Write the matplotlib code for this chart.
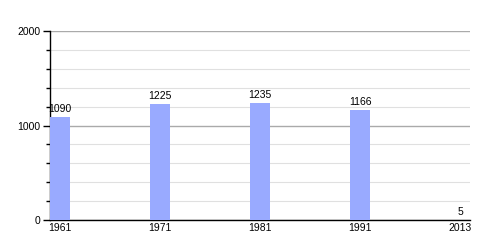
import matplotlib
matplotlib.use("Agg")
import matplotlib.pyplot as plt
from matplotlib.ticker import MultipleLocator

years = ["1961", "1971", "1981", "1991", "2013"]
population = [1090, 1225, 1235, 1166, 5]

plt.rcParams['font.family'] = ['Liberation Sans', 'DejaVu Sans']
fig = plt.figure(figsize=(5, 2.5), dpi=100)
ax = fig.add_axes([0.1, 0.12, 0.84, 0.756])

x = list(range(len(years)))
bw = 0.2
ax.bar(x, population, width=bw, align='edge', color='#99aaff', zorder=3)
for xi, v in zip(x, population):
    ax.text(xi + bw / 2, v + 30, str(v), ha='center', va='bottom', fontsize=7.5, zorder=4)

ax.set_xlim(0, 4.2)
ax.set_ylim(0, 2000)
ax.set_xticks([xi + bw / 2 for xi in x])
ax.set_xticklabels(years, fontsize=7.5)
ax.tick_params(axis='x', length=0, pad=2)
ax.yaxis.set_major_locator(MultipleLocator(1000))
ax.yaxis.set_minor_locator(MultipleLocator(200))
ax.tick_params(axis='y', which='major', length=5, width=1, labelsize=7.5, pad=2)
ax.tick_params(axis='y', which='minor', length=3, width=1)
ax.grid(axis='y', which='major', color='#aaaaaa', linewidth=1, zorder=1)
ax.grid(axis='y', which='minor', color='#e0e0e0', linewidth=0.8, zorder=1)
for s in ['top', 'right']:
    ax.spines[s].set_visible(False)
ax.spines['left'].set_linewidth(1)
ax.spines['bottom'].set_linewidth(1)

fig.savefig("out.png", dpi=100)
